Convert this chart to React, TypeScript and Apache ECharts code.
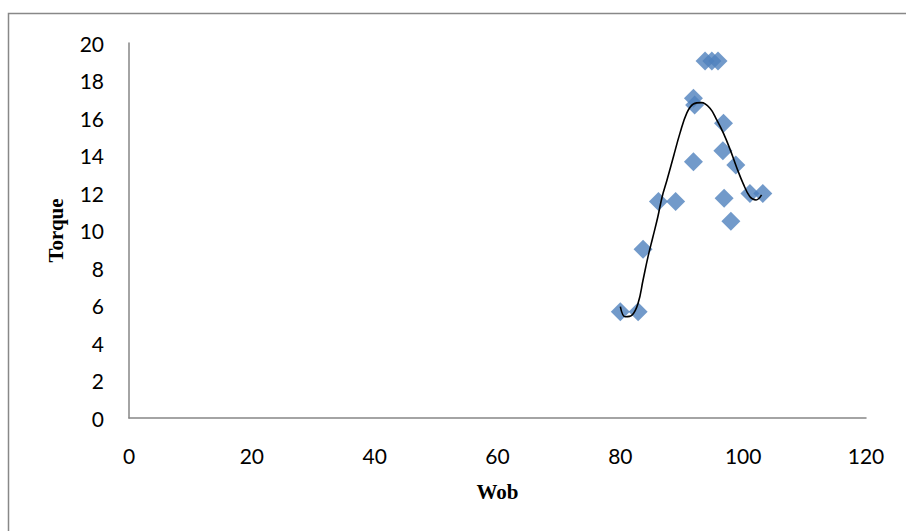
import React, { useEffect, useRef } from "react";
import * as echarts from "echarts";

const wobValues = [80, 82.9, 83.7, 86.2, 89.0, 91.9, 92.1, 91.9, 93.8, 94.9, 95.9, 96.8, 96.7, 98.8, 96.9, 98.0, 101.1, 103.2];
const torqueValues = [5.67, 5.67, 9.0, 11.55, 11.55, 17.05, 16.7, 13.67, 19.04, 19.04, 19.04, 15.72, 14.26, 13.5, 11.72, 10.5, 11.98, 11.98];

const trendWob = [80.0, 80.8, 81.9, 82.9, 83.7, 84.5, 85.3, 86.1, 86.8, 87.6, 88.7, 89.7, 90.8, 91.9, 93.2, 94.6, 95.7, 96.8, 97.9, 98.9, 100.0, 101.1, 102.1, 103.0];
const trendTorque = [5.94, 5.4, 5.49, 6.13, 7.36, 8.59, 9.65, 10.72, 11.79, 12.69, 14.0, 15.18, 16.25, 16.75, 16.82, 16.52, 15.9, 15.18, 14.3, 13.4, 12.5, 11.8, 11.63, 11.9];

const xTicks = [0, 20, 40, 60, 80, 100, 120];
const yTicks = [0, 2, 4, 6, 8, 10, 12, 14, 16, 18, 20];

export default function App() {
  const ref = useRef<HTMLDivElement>(null);
  useEffect(() => {
    document.body.style.margin = "0";
    const chart = echarts.init(ref.current!, null, { renderer: "svg" });
    const tickFont = { fontFamily: "Lato", fontSize: 21, color: "#000" };
    const nameFont = { fontFamily: "Liberation Serif", fontSize: 21, fontWeight: "bold" as const, color: "#000" };
    chart.setOption({
      animation: false,
      backgroundColor: "#fff",
      grid: { left: 129, top: 43, right: 40, bottom: 113 },
      xAxis: {
        type: "value",
        min: xTicks[0],
        max: xTicks[xTicks.length - 1],
        interval: 20,
        name: "Wob",
        nameLocation: "middle",
        nameGap: 63,
        nameTextStyle: nameFont,
        axisLine: { show: true, lineStyle: { color: "#868686", width: 1.5 } },
        axisTick: { show: false },
        splitLine: { show: false },
        axisLabel: { ...tickFont, margin: 27 },
      },
      yAxis: {
        type: "value",
        min: yTicks[0],
        max: yTicks[yTicks.length - 1],
        interval: 2,
        name: "Torque",
        nameLocation: "middle",
        nameGap: 63,
        nameTextStyle: nameFont,
        axisLine: { show: true, lineStyle: { color: "#868686", width: 1.5 } },
        axisTick: { show: false },
        splitLine: { show: false },
        axisLabel: { ...tickFont, margin: 25 },
      },
      graphic: [
        {
          type: "rect",
          shape: { x: 8.5, y: 13.5, width: 1200, height: 1200 },
          style: { fill: "none", stroke: "#888", lineWidth: 1.5 },
          silent: true,
        },
      ],
      series: [
        {
          type: "scatter",
          data: wobValues.map((w, i) => [w, torqueValues[i]]),
          symbol: "diamond",
          symbolSize: 19,
          itemStyle: { color: "#4F81BD" },
          z: 2,
        },
        {
          type: "line",
          data: trendWob.map((w, i) => [w, trendTorque[i]]),
          smooth: 0.4,
          showSymbol: false,
          lineStyle: { color: "#000", width: 1.6 },
          z: 3,
        },
      ],
    });
    return () => chart.dispose();
  }, []);
  return <div ref={ref} style={{ width: 906, height: 531 }} />;
}
